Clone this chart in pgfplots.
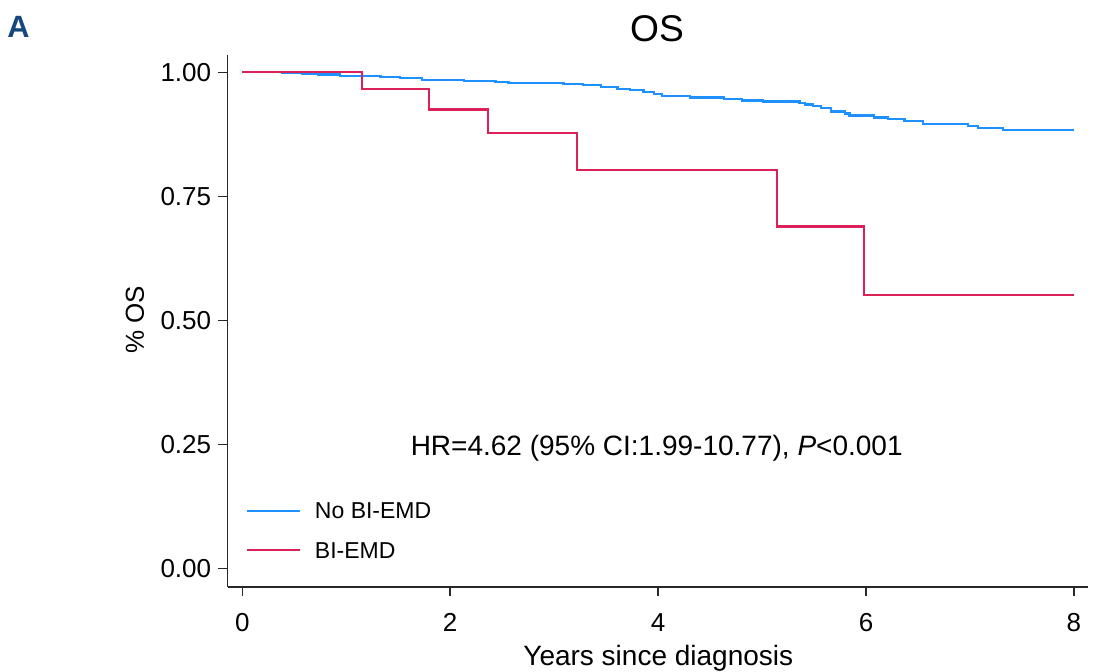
\documentclass[border=0pt]{standalone}
\usepackage{fontspec}
\setmainfont{Liberation Sans}
\usepackage{pgfplots}
\pgfplotsset{compat=1.18}
\definecolor{osblue}{RGB}{30,144,255}
\definecolor{osred}{RGB}{218,34,88}
\definecolor{panelblue}{RGB}{22,72,128}
\definecolor{spine}{RGB}{40,40,40}
\begin{document}
\begin{tikzpicture}
\begin{axis}[
  at={(0,0)}, anchor=south west,
  scale only axis, width=430.15pt, height=266pt,
  xmin=-0.14, xmax=8.135, ymin=-0.0377, ymax=1.0349,
  axis x line*=bottom, axis y line*=left,
  axis line style={spine, line width=0.75pt, -},
  xtick={0,2,4,6,8}, ytick={0,0.25,0.5,0.75,1},
  yticklabels={0.00,0.25,0.50,0.75,1.00},
  tick align=outside, major tick length=4.75pt,
  tick style={spine, line width=0.75pt},
  minor tick num=0,
  ticklabel style={font=\fontsize{13}{15}\selectfont},
  xticklabel style={yshift=-5pt},
  /pgf/number format/assume math mode=true,
  legend style={draw=none, fill=none, at={(rel axis cs:0,0)}, anchor=north west,
    xshift=9pt, yshift=42.5pt, inner sep=0pt, outer sep=0pt,
    row sep=8.65pt, column sep=7pt, font=\fontsize{11.5}{13}\selectfont,
    nodes={inner sep=0pt, text height=8.5pt, text depth=2.5pt}},
  legend cell align=left,
  legend image code/.code={\draw[#1, line width=1pt] (0pt,1pt) -- (26.65pt,1pt);},
]
\addplot[const plot, osblue, line width=1.1pt] coordinates {
(0,1.000) (0.385,0.998) (0.577,0.9966) (0.731,0.9954) (0.943,0.9933)
(1.155,0.992) (1.33,0.991) (1.52,0.9885) (1.73,0.9845) (2.13,0.982)
(2.435,0.980) (2.56,0.978) (3.09,0.9764) (3.28,0.974) (3.45,0.971)
(3.61,0.967) (3.73,0.964) (3.86,0.961) (3.96,0.956) (4.04,0.952)
(4.31,0.949) (4.63,0.946) (4.81,0.943) (5.01,0.941) (5.36,0.938)
(5.41,0.935) (5.49,0.932) (5.57,0.928) (5.66,0.921) (5.80,0.917)
(5.84,0.913) (6.08,0.909) (6.21,0.906) (6.37,0.901) (6.55,0.896)
(6.98,0.892) (7.08,0.887) (7.32,0.884) (8.0,0.884)
};
\addlegendentry{No BI-EMD}
\addplot[const plot, osred, line width=1.1pt] coordinates {
(0,1) (1.152,0.966) (1.795,0.925) (2.36,0.877) (3.22,0.803)
(5.146,0.689) (5.98,0.551) (8.0,0.551)
};
\addlegendentry{BI-EMD}
\node[anchor=base, inner sep=0pt, font=\fontsize{14}{16}\selectfont, xshift=214.5pt, yshift=65.5pt]
  at (rel axis cs:0,0) {HR=4.62 (95\% CI:1.99-10.77), \textit{P}<0.001};
\end{axis}
\node[anchor=base west, inner sep=0pt, font=\fontsize{15.4}{18}\selectfont\bfseries, text=panelblue] at (-110.35pt,274.5pt) {A};
\node[anchor=base, inner sep=0pt, font=\fontsize{18.6}{22}\selectfont] at (214.65pt,272.65pt) {OS};
\node[rotate=90, anchor=base, inner sep=0pt, font=\fontsize{13}{15}\selectfont] at (-41.85pt,133.5pt) {\% OS};
\node[anchor=base, inner sep=0pt, font=\fontsize{14}{16}\selectfont] at (215.3pt,-39.5pt) {Years since diagnosis};
\pgfresetboundingbox
\useasboundingbox (-113.85pt,-42.5pt) rectangle (435.15pt,293.5pt);
\end{tikzpicture}
\end{document}
